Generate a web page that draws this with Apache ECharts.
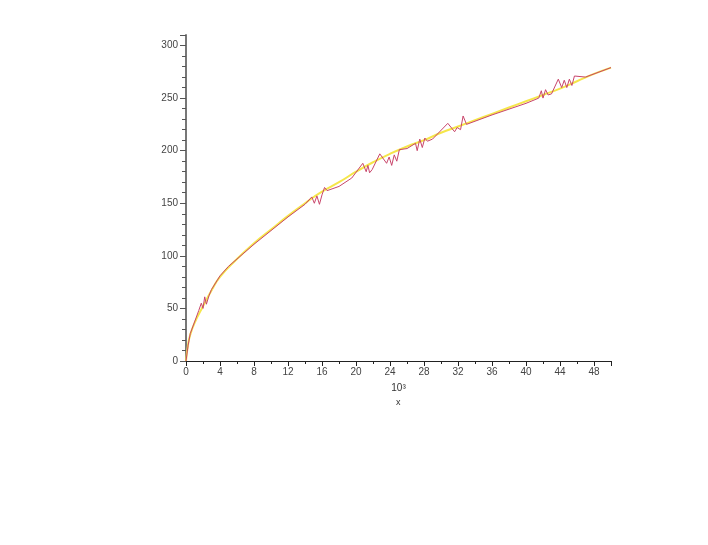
<!DOCTYPE html>
<html>
<head>
<meta charset="utf-8">
<script src="https://cdn.jsdelivr.net/npm/echarts@6/dist/echarts.min.js"></script>
<style>
  html, body { margin: 0; padding: 0; background: #fff; }
  #chart { width: 708px; height: 545px; }
</style>
</head>
<body>
<div id="chart"></div>
<script>
// x in thousands (10^3)
const smoothX = [0, 0.25, 0.5, 1, 2, 3, 4, 6, 8, 10, 12, 14, 16, 18, 20, 22, 24, 26, 28, 30, 32, 34, 36, 38, 40, 42, 44, 46, 48, 50]
const smoothY = [0, 16, 25, 36, 52, 67, 80, 97, 112, 125, 138, 150, 161, 170, 180, 189, 197, 204, 210, 217, 223, 229, 235, 241, 247, 253, 259, 266, 273, 279]

const noisyX = [0, 0.25, 0.5, 1, 1.5, 1.8, 2.0, 2.2, 2.4, 2.7, 3, 4, 5, 6, 8, 10, 12, 14, 14.8, 15.1, 15.4, 15.7, 16.0, 16.3, 16.6, 18, 19.5, 20.8, 21.2, 21.4, 21.6, 21.9, 22.8, 23.6, 23.9, 24.2, 24.5, 24.8, 25.1, 26, 27, 27.2, 27.5, 27.8, 28.1, 28.4, 29, 30.8, 31.6, 31.9, 32.3, 32.6, 33, 36, 40, 41.5, 41.8, 42.0, 42.3, 42.6, 43, 43.8, 44.2, 44.5, 44.8, 45.1, 45.4, 45.7, 47, 50]
const noisyY = [0, 15, 26, 37, 48, 55, 50, 61, 54, 62, 68, 81, 90, 97, 111, 124, 137, 149, 156, 150, 157, 149, 158, 165, 162, 166, 174, 188, 180, 186, 179, 182, 197, 188, 194, 186, 196, 190, 201, 202, 207, 200, 211, 203, 212, 209, 211, 226, 218, 222, 220, 233, 225, 234, 245, 250, 257, 250, 258, 253, 254, 268, 260, 267, 260, 268, 262, 271, 270, 279]

const smoothData = smoothX.map((x, i) => [x, smoothY[i]])
const noisyData = noisyX.map((x, i) => [x, noisyY[i]])

const chart = echarts.init(document.getElementById('chart'))
chart.setOption({
  animation: false,
  grid: { left: 186, right: 97, top: 35, bottom: 184 },
  xAxis: {
    type: 'value',
    min: 0, max: 50, interval: 4,
    name: '10³',
    nameLocation: 'middle',
    nameGap: 22,
    nameTextStyle: { color: '#333', fontSize: 10, fontFamily: 'Liberation Sans' },
    axisLine: { lineStyle: { color: '#222', width: 1 } },
    axisTick: { length: 5, lineStyle: { color: '#222' } },
    minorTick: { show: true, splitNumber: 2, length: 3, lineStyle: { color: '#222' } },
    axisLabel: { color: '#444', fontSize: 10, fontFamily: 'Liberation Sans', showMaxLabel: false, margin: 6 },
    splitLine: { show: false }
  },
  yAxis: {
    type: 'value',
    min: 0, max: 310, interval: 50,
    axisLine: { show: true, lineStyle: { color: '#777', width: 2 } },
    axisTick: { show: true, length: 6, lineStyle: { color: '#555' } },
    minorTick: { show: true, splitNumber: 5, length: 4, lineStyle: { color: '#555' } },
    axisLabel: { color: '#444', fontSize: 10, fontFamily: 'Liberation Sans', showMaxLabel: false, margin: 8 },
    splitLine: { show: false }
  },
  graphic: [
    { type: 'text', left: 396, top: 398, style: { text: 'x', fill: '#333', fontSize: 9, fontFamily: 'Liberation Sans' } }
  ],
  series: [
    {
      type: 'line',
      data: smoothData,
      smooth: true,
      showSymbol: false,
      lineStyle: { color: '#f5e64a', width: 2 },
      z: 2
    },
    {
      type: 'line',
      data: noisyData,
      showSymbol: false,
      lineStyle: { color: '#c8456a', width: 1 },
      z: 3
    }
  ]
})
</script>
</body>
</html>
